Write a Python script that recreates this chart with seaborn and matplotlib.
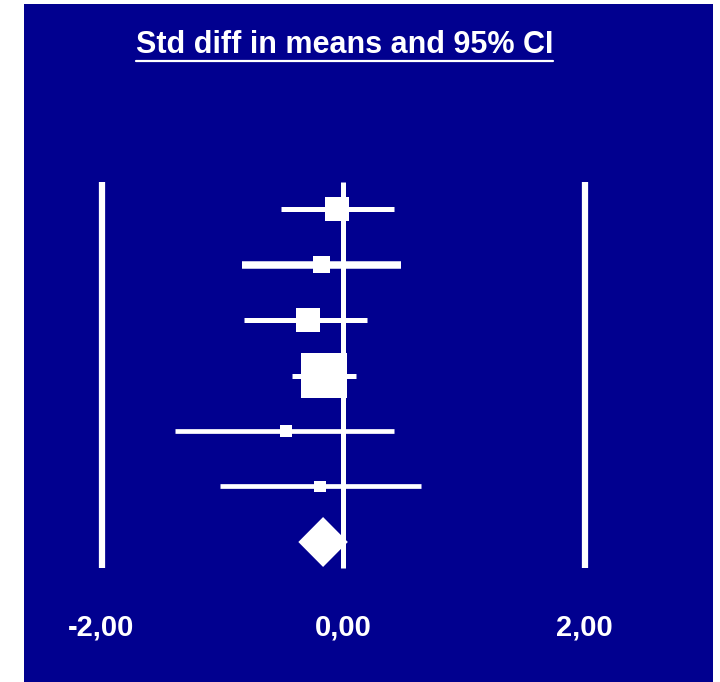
#!/usr/bin/env python3

# Forest plot: std diff in means with 95% CI, navy panel style

import pandas as pd
import seaborn as sns
import matplotlib.pyplot as plt

# study estimates (std diff in means)
means = [-0.05, -0.18, -0.29, -0.16, -0.47, -0.19]
lower = [-0.51, -0.84, -0.82, -0.42, -1.39, -1.02]
upper = [0.42, 0.48, 0.20, 0.11, 0.42, 0.65]
weights = [15.0, 7.5, 15.0, 55.0, 3.7, 3.7]  # relative weight, %

# pooled estimate
pooled_mean = -0.165
pooled_lower = -0.37
pooled_upper = 0.04

tick_values = [-2, 0, 2]
tick_labels = ["-2,00", "0,00", "2,00"]
title = "Std diff in means and 95% CI"

NAVY = "#01008f"
WHITE = "white"


def main():
    sns.set_style("white")
    plt.rcParams['font.family'] = ['Liberation Sans', 'DejaVu Sans']

    df = pd.DataFrame({"row": range(len(means)), "mean": means,
                       "lower": lower, "upper": upper, "weight": weights})
    # box side in points grows with sqrt(weight)
    df["size"] = (4.46 * df["weight"] ** 0.5) ** 2
    pooled_row = len(means)

    fig = plt.figure(figsize=(7.2, 6.82), dpi=100, facecolor=WHITE)
    ax = fig.add_axes([24 / 720, 0, 689 / 720, 678 / 682])
    ax.set_facecolor(NAVY)

    # scale: 0 at 343px, 120.75px per unit; rows 55.5px apart from y=209
    ax.set_xlim((24 - 343) / 120.75, (713 - 343) / 120.75)
    ax.set_ylim((682 - 209) / 55.5, (4 - 209) / 55.5)

    y_top = (182 - 209) / 55.5
    y_bot = (568 - 209) / 55.5
    ax.vlines([tick_values[0], tick_values[2]], y_top, y_bot,
              color=WHITE, linewidth=4.5, zorder=1)
    ax.vlines(tick_values[1], y_top, y_bot, color=WHITE,
              linewidth=3.6, zorder=1)

    widths = [3.6, 5.4, 3.6, 3.6, 3.4, 3.4]
    ax.hlines(df["row"], df["lower"], df["upper"], color=WHITE,
              linewidth=widths, zorder=2)

    sns.scatterplot(data=df, x="mean", y="row", size="size",
                    sizes=(df["size"].min(), df["size"].max()),
                    marker="s", color=WHITE, linewidth=0, legend=False,
                    ax=ax, zorder=3)

    half_h = 0.45
    ax.fill([pooled_lower, pooled_mean, pooled_upper, pooled_mean],
            [pooled_row, pooled_row - half_h, pooled_row, pooled_row + half_h],
            color=WHITE, linewidth=0, zorder=3)

    for v, lab in zip(tick_values, tick_labels):
        ax.text(v, (635 - 209) / 55.5, lab, color=WHITE, fontsize=21,
                fontweight="bold", ha="center", va="baseline")

    t = ax.text(0.01, (53 - 209) / 55.5, title, color=WHITE, fontsize=22,
                fontweight="bold", ha="center", va="baseline")

    ax.set_xticks([])
    ax.set_yticks([])
    ax.set_xlabel("")
    ax.set_ylabel("")
    for s in ax.spines.values():
        s.set_visible(False)

    # underline the title
    fig.canvas.draw()
    bb = t.get_window_extent().transformed(ax.transData.inverted())
    y_line = bb.y0 + 0.01
    ax.plot([bb.x0, bb.x1], [y_line, y_line], color=WHITE, linewidth=1.6)

    fig.savefig("out.png", dpi=100, facecolor=WHITE)


if __name__ == "__main__":
    main()
